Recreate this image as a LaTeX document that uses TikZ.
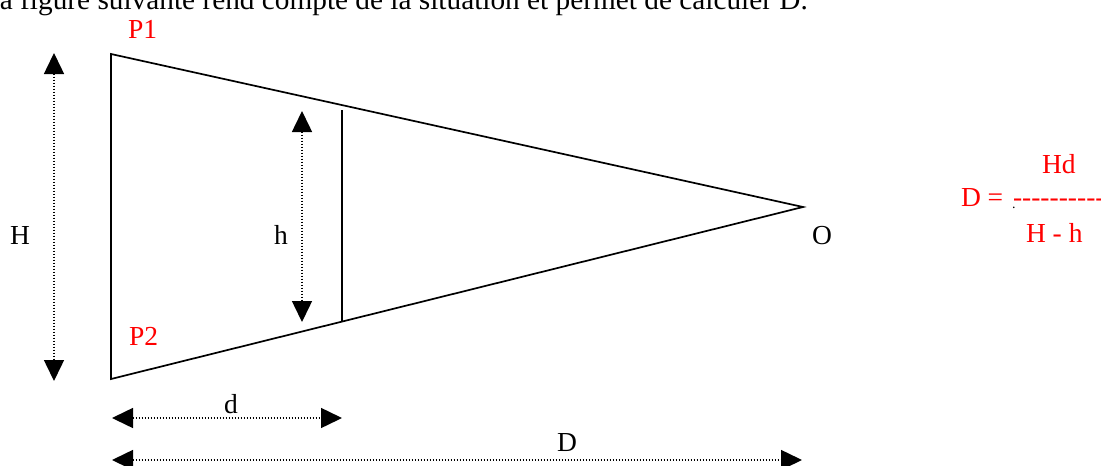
\documentclass[tikz,border=0pt]{standalone}
\usepackage{fontspec}
\setmainfont{Liberation Serif}
\usetikzlibrary{arrows.meta}
\begin{document}
\begin{tikzpicture}[x=1pt,y=-1pt,
  every node/.style={inner sep=0pt,outer sep=0pt,font=\fontsize{27.5}{30}\selectfont},
  lbl/.style={anchor=base west},
  red lbl/.style={anchor=base west,text=red},
  edge line/.style={line width=1.7pt},
  dim/.style={line width=1.5pt,dash pattern=on 1.5pt off 1.5pt,
    {Triangle[length=21pt,width=20pt]}-{Triangle[length=21pt,width=20pt]}}]
\useasboundingbox (0,0) rectangle (1101,466);
\clip (0,0) rectangle (1101,466);
% partially visible header text
\node[lbl,font=\fontsize{29.3}{32}\selectfont] (title) at (-18,9) {La figure suivante rend compte de la situation et permet de calculer D.};
% triangle
\coordinate (P1) at (111,54);
\coordinate (P2) at (111,379);
\coordinate (O) at (803,207);
\draw[edge line,line join=miter] (P1) -- (O) -- (P2) -- cycle;
% inner vertical segment
\coordinate (ht) at (342,110);
\coordinate (hb) at (342,322);
\draw[edge line] (ht) -- (hb);
% dimension arrows
\coordinate (Ha) at (54,53);
\coordinate (Hb) at (54,381);
\draw[dim] (Ha) -- (Hb);
\coordinate (ha) at (302,111);
\coordinate (hbb) at (302,322);
\draw[dim] (ha) -- (hbb);
\coordinate (da) at (112,418);
\coordinate (db) at (342,418);
\draw[dim] (da) -- (db);
\coordinate (Da) at (112,460);
\coordinate (Db) at (802,460);
\draw[dim] (Da) -- (Db);
% labels
\node[red lbl] (lP1) at (128,38) {P1};
\node[red lbl] (lP2) at (129,345) {P2};
\node[lbl] (lH) at (10,244) {H};
\node[lbl] (lh) at (274,244) {h};
\node[lbl] (lO) at (812,244) {O};
\node[lbl] (ld) at (224,413) {d};
\node[lbl] (lD) at (557,451) {D};
% formula
\node[red lbl] (fnum) at (1042,173) {Hd};
\node[red lbl] (feq) at (961,206) {D =};
\node[lbl,font=\fontsize{14}{16}\selectfont] (fdot) at (1012,208) {.};
\node[red lbl] (fbar) at (1013,206) {{-}{-}{-}{-}{-}{-}{-}{-}{-}{-}};
\node[red lbl] (fden) at (1026,242) {H - h};
\end{tikzpicture}
\end{document}
